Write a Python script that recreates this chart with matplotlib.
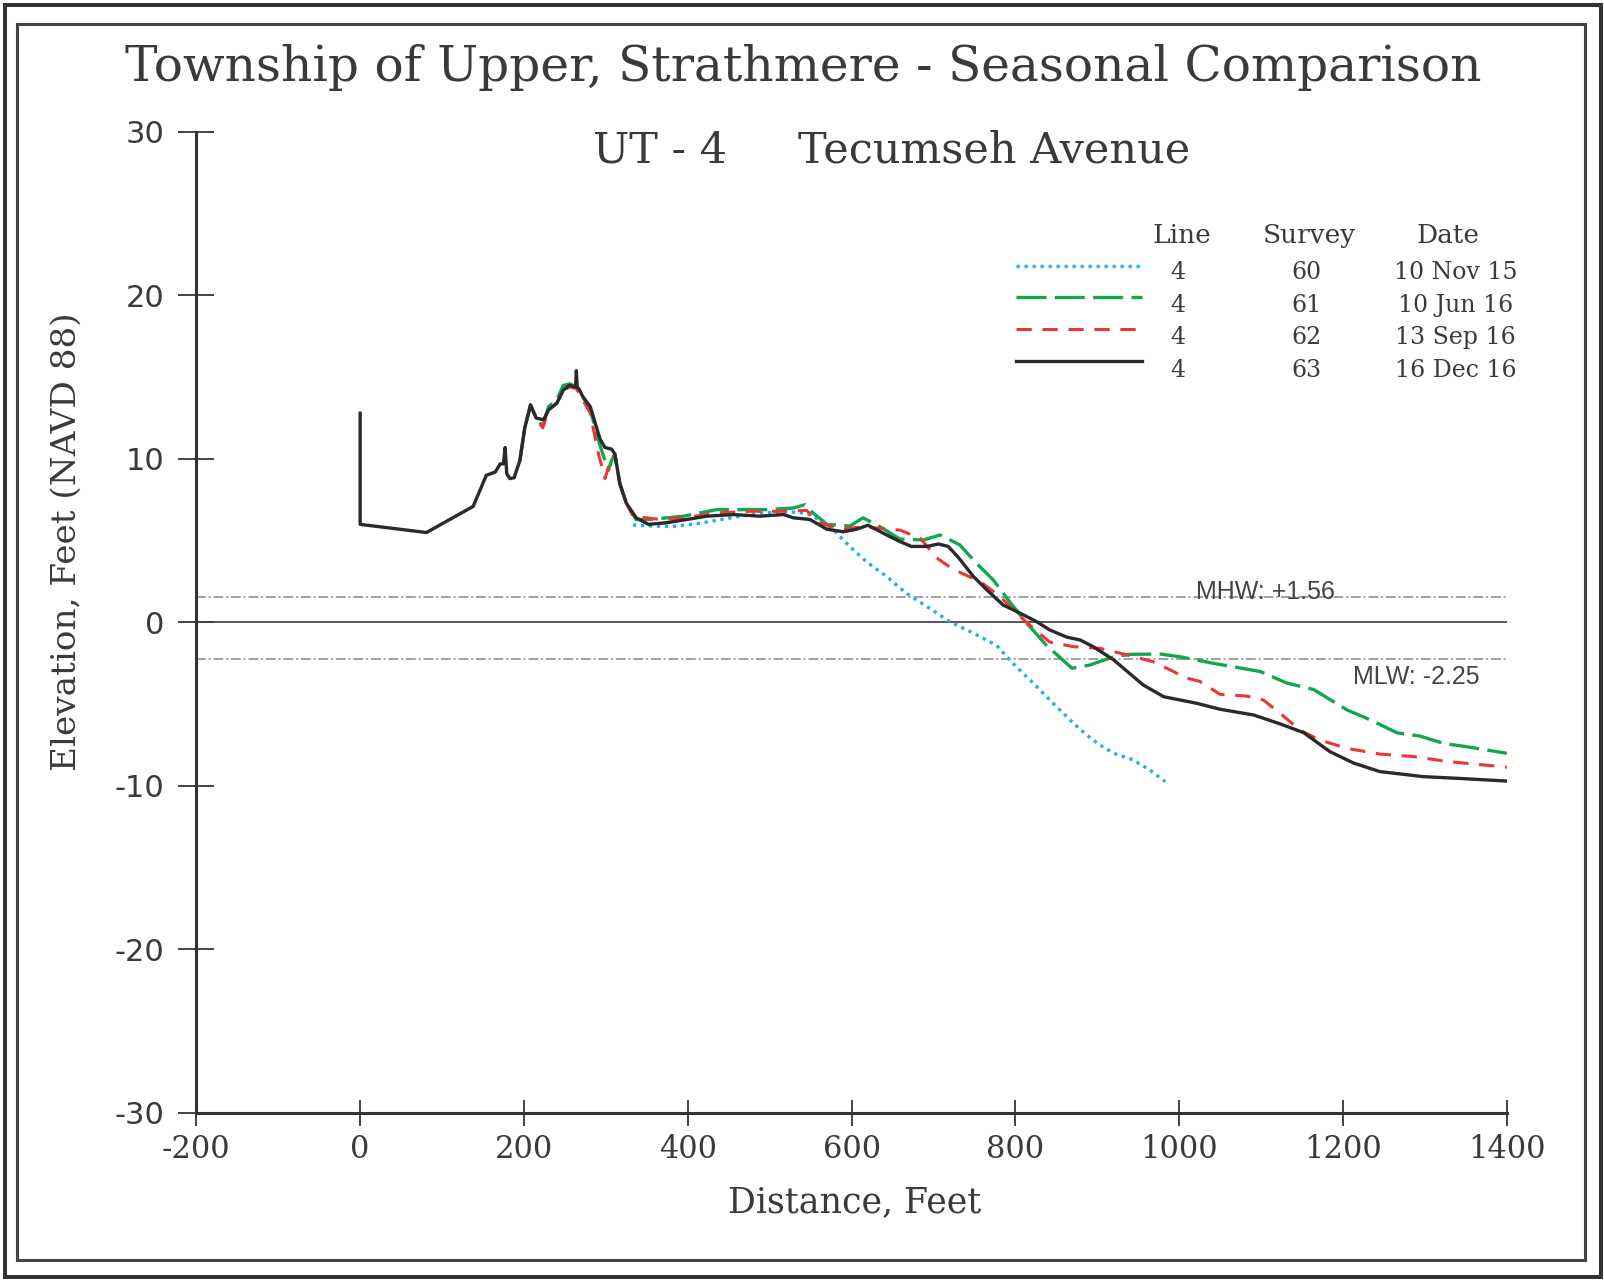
import matplotlib
matplotlib.use('Agg')
import matplotlib.pyplot as plt
from matplotlib.patches import Rectangle

plt.rcParams['axes.unicode_minus'] = False

# Perfiles de playa (distancia en pies, elevación en pies NAVD 88)
dist_nov15 = [333, 354, 382, 415, 456, 488, 521, 545, 561, 578, 598, 618, 643, 667,
              692, 720, 749, 777, 798, 822, 846, 871, 887, 903, 920, 944, 964, 983]
elev_nov15 = [5.96, 5.9, 5.87, 6.07, 6.43, 6.68, 6.78, 6.68, 6.27, 5.66, 4.64, 3.72, 2.8, 1.78,
              0.97, 0.05, -0.66, -1.4, -2.55, -3.72, -4.94, -6.17, -6.88, -7.49, -8.0, -8.41, -9.02, -9.74]

dist_jun16 = [195, 201, 208, 215, 223, 230, 240, 248, 256, 264, 272, 281, 293, 303, 307, 311,
              317, 325, 337, 354, 395, 435, 464, 496, 529, 543, 553, 570, 598, 614, 635, 659,
              688, 708, 732, 753, 773, 794, 814, 838, 869, 891, 920, 940, 977, 1001, 1042,
              1099, 1131, 1164, 1205, 1233, 1266, 1294, 1323, 1351, 1400]
elev_jun16 = [9.9, 11.9, 13.3, 12.5, 12.0, 13.2, 13.6, 14.5, 14.6, 14.4, 13.8, 13.0, 10.8, 9.3, 9.9, 10.3,
              8.5, 7.3, 6.3, 6.3, 6.5, 6.9, 6.9, 6.9, 7.0, 7.2, 6.7, 6.0, 5.9, 6.4, 5.85, 5.1,
              5.05, 5.35, 4.75, 3.6, 2.6, 1.2, -0.05, -1.4, -2.8, -2.6, -2.1, -1.95, -1.93, -2.1, -2.5,
              -3.0, -3.7, -4.1, -5.35, -5.95, -6.75, -6.95, -7.4, -7.6, -8.0]

dist_sep16 = [195, 201, 208, 215, 223, 230, 240, 248, 256, 264, 272, 281, 290, 299, 305, 311,
              317, 325, 333, 366, 395, 435, 476, 513, 545, 561, 586, 614, 659, 684, 704, 724,
              757, 781, 806, 822, 842, 871, 903, 932, 968, 989, 1009, 1025, 1050, 1082, 1103,
              1123, 1148, 1172, 1205, 1245, 1286, 1327, 1400]
elev_sep16 = [9.9, 11.9, 13.3, 12.5, 11.9, 13.0, 13.4, 14.2, 14.4, 14.3, 13.6, 12.8, 10.5, 8.8, 9.8, 10.3,
              8.5, 7.3, 6.5, 6.3, 6.4, 6.7, 6.8, 6.8, 6.85, 6.1, 5.7, 5.85, 5.65, 5.15, 3.95, 3.25,
              2.5, 1.6, 0.36, -0.36, -1.2, -1.48, -1.58, -1.93, -2.4, -2.9, -3.4, -3.6, -4.4, -4.5, -4.75,
              -5.55, -6.6, -7.2, -7.7, -8.05, -8.2, -8.5, -8.85]

dist_dec16 = [0, 0, 81, 138, 154, 165, 171, 175, 177, 179, 183, 188, 195, 201, 208, 215, 224, 230,
              240, 248, 255, 263, 264, 265, 267, 272, 281, 293, 299, 307, 311, 317, 325, 337, 352,
              374, 399, 423, 456, 488, 517, 529, 549, 570, 590, 606, 620, 639, 659, 673, 692, 706,
              718, 730, 749, 765, 785, 806, 826, 842, 863, 879, 895, 920, 956, 981, 1021, 1050,
              1091, 1123, 1152, 1184, 1213, 1245, 1298, 1339, 1400]
elev_dec16 = [12.8, 6.0, 5.5, 7.1, 9.0, 9.2, 9.7, 9.7, 10.7, 9.1, 8.8, 8.85, 9.9, 11.9, 13.3, 12.5, 12.4, 13.0,
              13.4, 14.2, 14.5, 14.4, 15.4, 14.4, 14.3, 13.8, 13.2, 11.2, 10.7, 10.6, 10.3, 8.5, 7.3, 6.4, 6.0,
              6.1, 6.3, 6.5, 6.6, 6.5, 6.6, 6.4, 6.3, 5.7, 5.55, 5.7, 5.95, 5.45, 4.95, 4.65, 4.65, 4.8,
              4.65, 4.0, 2.8, 2.0, 1.07, 0.56, 0.05, -0.46, -0.9, -1.07, -1.48, -2.29, -3.82, -4.54, -4.94, -5.31,
              -5.66, -6.2, -6.74, -7.9, -8.6, -9.12, -9.43, -9.53, -9.7]

lineas = ['4', '4', '4', '4']
surveys = ['60', '61', '62', '63']
fechas = ['10 Nov 15', '10 Jun 16', '13 Sep 16', '16 Dec 16']

mhw = 1.56
mlw = -2.25

xticks = [-200, 0, 200, 400, 600, 800, 1000, 1200, 1400]
yticks = [-30, -20, -10, 0, 10, 20, 30]

# estilos de cada levantamiento
estilos = [
    dict(color='#22b0ee', linestyle=(0, (1, 1.4)), lw=2.4),
    dict(color='#12a64e', linestyle=(0, (9, 2.5)), lw=2.4),
    dict(color='#ee3535', linestyle=(0, (5, 3.5)), lw=2.2),
    dict(color='#2a2a2a', linestyle='-', lw=2.4),
]

serif = 'DejaVu Serif'
sans = 'DejaVu Sans'
gris = '#3a3a3a'

fig = plt.figure(figsize=(16.04, 12.80), dpi=100)
fig.patch.set_facecolor('white')

# marcos dobles
fig.patches.append(Rectangle((0.0031, 0.0023), 0.9949, 0.9938, transform=fig.transFigure,
                             fill=False, edgecolor='#333333', lw=2.9))
fig.patches.append(Rectangle((0.0104, 0.0156), 0.9778, 0.9656, transform=fig.transFigure,
                             fill=False, edgecolor='#444444', lw=2.2))

ax = fig.add_axes([0.1224, 0.1305, 0.817, 0.7664])
ax.set_xlim(-200, 1400)
ax.set_ylim(-30, 30)

# líneas de referencia
ax.axhline(0, color='#555555', lw=1.4, zorder=1)
ax.axhline(mhw, color='#a0a0a0', lw=1.4, linestyle=(0, (5, 1.5, 1, 1.5)), zorder=1)
ax.axhline(mlw, color='#a0a0a0', lw=1.4, linestyle=(0, (5, 1.5, 1, 1.5)), zorder=1)
ax.text(1020, mhw - 0.1, f'MHW: +{mhw:.2f}', fontsize=18, family='Liberation Sans',
        color='#444444', ha='left', va='baseline')
ax.text(1367, mlw - 0.35, f'MLW: {mlw:.2f}', fontsize=18, family='Liberation Sans',
        color='#444444', ha='right', va='top')

perfiles = [(dist_nov15, elev_nov15), (dist_jun16, elev_jun16),
            (dist_sep16, elev_sep16), (dist_dec16, elev_dec16)]
for (d, e), est in zip(perfiles, estilos):
    ax.plot(d, e, zorder=3, **est)

# ejes
for lado in ['top', 'right']:
    ax.spines[lado].set_visible(False)
for lado in ['left', 'bottom']:
    ax.spines[lado].set_linewidth(2.2)
    ax.spines[lado].set_color('#333333')

ax.set_xticks(xticks)
ax.set_xticklabels([str(v) for v in xticks], family=serif, fontsize=22, color=gris)
ax.set_yticks(yticks)
ax.set_yticklabels([str(v) for v in yticks], family=sans, fontsize=22, color=gris)
ax.tick_params(axis='x', direction='inout', length=19, width=1.4, color='#444444', pad=6)
ax.tick_params(axis='y', direction='inout', length=26, width=1.4, color='#444444', pad=10)

# tabla de leyenda
for xh, texto in [(0.7518, 'Line'), (0.849, 'Survey'), (0.9548, 'Date')]:
    ax.text(xh, 0.894, texto, transform=ax.transAxes, family=serif, fontsize=19,
            color=gris, ha='center', va='center')
filas_linea = [0.8634, 0.8313, 0.7992, 0.7666]
filas_texto = [0.8563, 0.8227, 0.7906, 0.7564]
for i in range(4):
    ax.plot([0.6255, 0.722], [filas_linea[i], filas_linea[i]], transform=ax.transAxes,
            clip_on=False, **estilos[i])
    ax.text(0.749, filas_texto[i], lineas[i], transform=ax.transAxes, family=serif,
            fontsize=17, color=gris, ha='center', va='center')
    ax.text(0.8468, filas_texto[i], surveys[i], transform=ax.transAxes, family=serif,
            fontsize=17, color=gris, ha='center', va='center')
    ax.text(0.961, filas_texto[i], fechas[i], transform=ax.transAxes, family=serif,
            fontsize=17, color=gris, ha='center', va='center')

# títulos y etiquetas
fig.text(0.5006, 0.9475, 'Township of Upper, Strathmere - Seasonal Comparison',
         family=serif, fontsize=35, color=gris, ha='center', va='center')
fig.text(0.3697, 0.8825, 'UT - 4', family=serif, fontsize=31, color=gris,
         ha='left', va='center')
fig.text(0.4975, 0.8825, 'Tecumseh Avenue', family=serif, fontsize=31, color=gris,
         ha='left', va='center')
fig.text(0.0415, 0.5766, 'Elevation, Feet (NAVD 88)', family=serif, fontsize=24.7,
         color=gris, ha='center', va='center', rotation=90)
fig.text(0.533, 0.0609, 'Distance, Feet', family=serif, fontsize=25, color=gris,
         ha='center', va='center')

fig.savefig('out.png', dpi=100)
plt.close(fig)
